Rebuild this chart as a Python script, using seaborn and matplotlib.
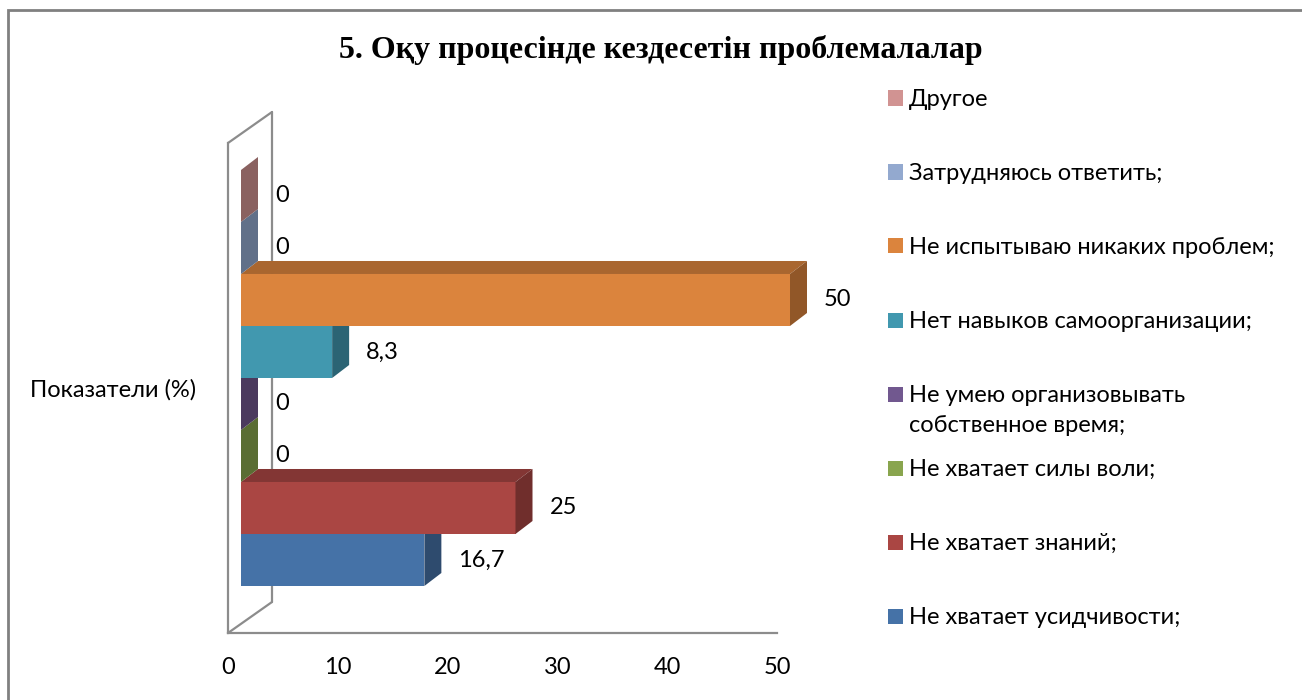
import numpy as np
import pandas as pd
import seaborn as sns
import matplotlib.pyplot as plt
from matplotlib.patches import Polygon, Rectangle
from matplotlib.lines import Line2D
from matplotlib.transforms import ScaledTranslation
from matplotlib.colors import to_rgb

# Data (top of chart to bottom)
labels = ["Другое", "Затрудняюсь ответить;", "Не испытываю никаких проблем;",
          "Нет навыков самоорганизации;", "Не умею организовывать\nсобственное время;",
          "Не хватает силы воли;", "Не хватает знаний;", "Не хватает усидчивости;"]
values = [0, 0, 50, 8.3, 0, 0, 25, 16.7]
value_text = ["0", "0", "50", "8,3", "0", "0", "25", "16,7"]
colors = ["#D19392", "#93A9CF", "#DB843D", "#4198AF", "#71588F", "#89A54E", "#AA4643", "#4572A7"]

title = "5. Оқу процесінде кездесетін проблемалалар"
cat_label = "Показатели (%)"

sns.set_style("white")
plt.rcParams["font.family"] = ["Lato", "DejaVu Sans"]
plt.rcParams["text.color"] = "black"
plt.rcParams["xtick.labelcolor"] = "black"

df = pd.DataFrame({"label": labels, "value": values})

fig = plt.figure(figsize=(13.02, 7), dpi=100)
W, H = 1302, 700
ax = fig.add_axes([228 / W, 1 - 633 / H, 549 / W, 490 / H])

sns.barplot(data=df, y="label", x="value", hue="label", order=labels, hue_order=labels,
            palette=colors, width=1.0, dodge=False, legend=False, ax=ax,
            linewidth=0, saturation=1)

ax.set_xlim(0, 50)
ax.set_ylim(8.404, -1.019)
ax.set_xticks(range(0, 51, 10))
ax.set_yticks([8.404, -1.019])
ax.set_yticklabels([])
ax.set_xlabel("")
ax.set_ylabel("")
gray = "#8C8C8C"
for side in ["top", "right"]:
    ax.spines[side].set_visible(False)
for side in ["left", "bottom"]:
    ax.spines[side].set_color(gray)
    ax.spines[side].set_linewidth(1.6)
ax.tick_params(axis="x", direction="out", length=8, width=1.6, color=gray,
               labelsize=17, pad=9, labelcolor="black")
ax.tick_params(axis="y", direction="out", length=8, width=1.6, color=gray)
ax.patch.set_visible(False)

# back wall of the 3d box
wall = dict(color=gray, lw=1.6, clip_on=False)
back = ax.transAxes + ScaledTranslation(0.44, 0.31, fig.dpi_scale_trans)
ax.add_line(Line2D([0, 0], [0, 1], transform=back, **wall))
p0 = ax.transAxes.transform([(0, 1), (0, 0)])
p1 = back.transform([(0, 1), (0, 0)])
inv = fig.transFigure.inverted()
for a, b in zip(p0, p1):
    fig.add_artist(Line2D(*inv.transform([a, b]).T, transform=fig.transFigure, **wall))

# bars: shift front faces and add depth faces (upper bars drawn over lower ones)
shift = ScaledTranslation(0.13, 0, fig.dpi_scale_trans)
to_data = ax.transData.inverted()
dx, dy = 17, 13
bars = list(ax.patches)
n = len(bars)
for i, bar in enumerate(bars):
    z = 3 + (n - i)
    bar.set_transform(ax.transData + shift)
    bar.set_zorder(z)
    bar.set_clip_on(False)
    x0, y0 = bar.get_x(), bar.get_y()
    x1, y1 = x0 + bar.get_width(), y0 + bar.get_height()
    (lx, by), (rx, ty) = (ax.transData + shift).transform([(x0, y1), (x1, y0)])
    base = np.array(to_rgb(bar.get_facecolor()))
    top = [(lx, ty), (rx, ty), (rx + dx, ty + dy), (lx + dx, ty + dy)]
    side = [(rx, by), (rx, ty), (rx + dx, ty + dy), (rx + dx, by + dy)]
    ax.add_patch(Polygon(to_data.transform(top), closed=True, facecolor=base * 0.77,
                         edgecolor="none", zorder=z, clip_on=False))
    ax.add_patch(Polygon(to_data.transform(side), closed=True, facecolor=base * 0.66,
                         edgecolor="none", zorder=z, clip_on=False))

# value labels
lab_off = ax.transData + ScaledTranslation(0.47, 0, fig.dpi_scale_trans)
for i, (v, t) in enumerate(zip(values, value_text)):
    ax.text(v, i, t, transform=lab_off, fontsize=17, va="center", ha="left",
            clip_on=False, zorder=20)

fig.text(30 / W, 1 - 390 / H, cat_label, fontsize=17, va="center", ha="left")
fig.text(661 / W, 1 - 50 / H, title, fontsize=23, fontweight="bold", ha="center", va="center",
         family=["Liberation Serif", "DejaVu Serif"])

# legend, one slot per entry, like the office chart
for i, (lab, c) in enumerate(zip(labels, colors)):
    yc = 98 + i * 74
    extra = lab.count("\n") * 30
    fig.add_artist(Rectangle((888 / W, 1 - (yc + 7.5) / H), 15 / W, 15 / H,
                             transform=fig.transFigure, facecolor=c, edgecolor="none"))
    fig.text(909 / W, 1 - (yc + 8 + extra) / H, lab, fontsize=17, va="baseline", ha="left",
             linespacing=1.55)

fig.add_artist(Rectangle((8 / W, -0.01), 1.0, 1 - 10 / H + 0.01, transform=fig.transFigure,
                         fill=False, edgecolor="#808080", lw=2))

fig.savefig("out.png", dpi=100)
